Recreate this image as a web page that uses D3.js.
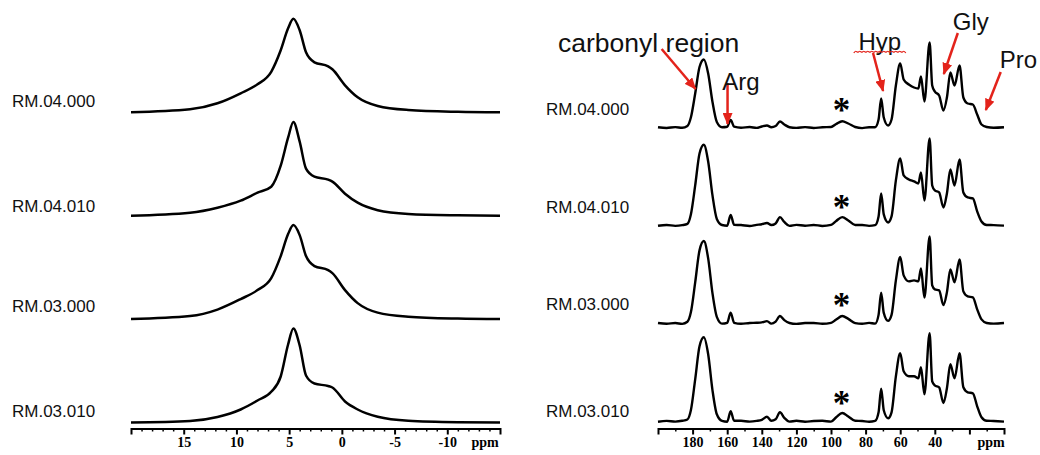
<!DOCTYPE html>
<html>
<head>
<meta charset="utf-8">
<script src="https://cdn.jsdelivr.net/npm/d3@7"></script>
<style>
  body { margin: 0; background: #fff; }
  svg { display: block; }
</style>
</head>
<body>
<div id="chart"></div>
<script>
// --- Samples (top -> bottom) ---
const samples = ["RM.04.000", "RM.04.010", "RM.03.000", "RM.03.010"];

// --- 1H spectra: chemical shift (ppm) and intensity ---
const hShift = [20, 14.4, 11.8, 9.6, 8.0, 6.7, 5.8, 5.1, 4.6, 4.0, 3.4, 2.6, 1.3, 0.9, -0.3, -1.5, -3.4, -6.3, -11, -15];
const h0400 = [0, 3, 9, 19, 28, 40.5, 62, 84, 93.5, 82, 60, 50, 46, 43, 27, 15, 6.3, 2.3, 0.5, 0];
const h0410 = [0, 3, 8, 15, 23, 29, 50, 78, 93.7, 74, 47, 39, 36, 34, 22, 13, 5.5, 1.8, 0.4, 0];
const h0300 = [0, 3, 9.5, 20, 29, 41, 63, 85, 94, 84, 63, 53, 49, 46, 29, 16, 6.5, 2.4, 0.5, 0];
const h0310 = [0, 1.5, 5.5, 13, 22, 30.7, 46, 78, 94, 77, 47, 39, 36.5, 35, 21, 13, 5.7, 1.7, 0.3, 0];

// --- 13C spectra ---
const cShift = [200, 195, 190, 186, 183, 181, 178.5, 176, 173.5, 171, 168.5, 166, 163, 160, 158, 156,
  152, 147, 143, 140, 137, 134.5, 132, 129.5, 127, 124, 120, 115, 110, 105, 100, 97, 93.5, 90, 86, 82, 78,
  74.5, 72.5, 71, 69.5, 67, 65, 62.5, 60, 58, 55, 52, 49.5, 48, 46, 43, 41.5, 40, 37.5, 35, 33, 31, 28.6,
  25.7, 23.5, 21, 18, 15.5, 13, 10, 6, 0];
const c0400 = [0.3, -0.5, 0.4, -0.3, 1.5, 10, 34, 60.5, 68, 54, 25.5, 5.5, 0.3, 0.8, 7.5, 0.8,
  -0.3, 0.5, -0.4, 1, 2, 0.3, 1.5, 6, 3, 0.3, -0.4, 0.4, -0.5, 0.3, 0.5, 3.5, 6.3, 4, 0.5, -0.6, 0.3,
  0.3, 8, 29, 10, 2, 8, 42, 64, 48, 43, 40, 39, 51, 26, 85, 42, 36, 32, 17, 30, 55, 42,
  62, 30, 24, 23, 13, 3, 0.5, -0.3, 0.2];
const c0410 = [-0.3, 0.5, -0.4, 0.3, 1.6, 11, 40, 72, 80.7, 64, 30, 6.5, 0.4, -0.3, 10.5, 0.6,
  0.4, -0.5, 0.6, 1.2, 2.5, 0.4, 2, 8.3, 3.5, -0.4, 0.6, -0.3, 0.5, -0.5, 0.6, 4.5, 8.3, 5, 0.4, 0.5, -0.4,
  0.3, 9, 32, 11, 3, 9, 45, 67, 50, 46, 44, 42, 53, 25, 87, 40, 35, 33, 18, 32, 56, 40,
  66, 33, 28, 27, 14, 4, 0.5, 0.3, -0.2];
const c0300 = [0.4, -0.4, 0.3, -0.5, 1.6, 11, 41, 73, 82.3, 65, 30, 6.5, -0.3, 0.6, 10.7, 0.5,
  -0.4, 0.4, 0.6, 1, 2.2, -0.3, 1.8, 7.3, 3.2, 0.4, -0.5, 0.3, 0.4, -0.4, 0.5, 3.8, 7.3, 4.5, 0.3, -0.4, 0.5,
  -0.3, 8.5, 30.7, 10.5, 2.5, 8.5, 43, 66.3, 48, 42, 43, 42, 55, 25.7, 87, 38, 34, 33, 18.3, 31, 54, 41,
  64, 32, 27, 26, 14, 4, 0.4, -0.3, 0.3];
const c0310 = [-0.4, 0.4, -0.3, 0.5, 1.8, 11, 42, 75, 84, 67, 31, 7, 0.4, -0.4, 10, 0.5,
  0.5, -0.3, 0.4, 1.5, 4.5, 0.5, 2, 9, 3.5, -0.3, 0.5, -0.4, 0.3, 0.5, -0.3, 4, 8.3, 4.8, 0.5, 0.3, -0.4,
  0.4, 9, 32.7, 11, 3, 9, 45, 68, 50, 45, 45, 43, 54, 27, 88, 40, 36, 34, 18.3, 33, 57, 43,
  68, 34, 29, 28, 15, 4, 0.5, 0.3, -0.3];

// --- Axis ticks ---
const hTicks = [15, 10, 5, 0, -5, -10];
const hMinor = d3.range(19, -15, -1).filter(v => v % 5 !== 0);
const cTicks = [180, 160, 140, 120, 100, 80, 60, 40, 20];
const cMinor = [190, 170, 150, 130, 110, 90, 70, 50, 30, 10];

// Zuordnung Probe -> Reihe
const hSeries = [h0400, h0410, h0300, h0310];
const cSeries = [c0400, c0410, c0300, c0310];

const width = 1040, height = 455;
const axisY = 428.5;

const svg = d3.select("#chart").append("svg")
  .attr("width", width)
  .attr("height", height);

svg.append("rect").attr("width", width).attr("height", height).attr("fill", "#fff");

function drawPanel(p) {
  const x = d3.scaleLinear().domain(p.domain).range(p.range);
  const rows = d3.scalePoint().domain(samples).range(p.rows);
  const y = d3.scaleLinear().domain([0, 100]).range([0, 100]);

  const g = svg.append("g").attr("class", p.name);

  // --- Spectra ---
  samples.forEach((s, i) => {
    const pts = p.shift.map((v, j) => [v, p.series[i][j]]);
    const line = d3.line()
      .x(d => x(d[0]))
      .y(d => rows(s) - y(d[1]))
      .curve(d3.curveMonotoneX);

    g.append("path")
      .datum(pts)
      .attr("d", line)
      .attr("fill", "none")
      .attr("stroke", "#000")
      .attr("stroke-width", p.lineWidth)
      .attr("stroke-linejoin", "round");

    g.append("text")
      .attr("x", p.labelX)
      .attr("y", rows(s) + p.labelDy[i])
      .attr("font-family", "Liberation Sans, Arial, sans-serif")
      .attr("font-size", "17px")
      .attr("fill", "#111")
      .text(s);

    if (p.star) {
      g.append("text")
        .attr("x", x(p.star))
        .attr("y", rows(s) - 6)
        .attr("text-anchor", "middle")
        .attr("font-family", "Liberation Serif, serif")
        .attr("font-weight", "bold")
        .attr("font-size", "35px")
        .text("*");
    }
  });

  // --- Axes (major + minor) ---
  const minorG = g.append("g")
    .attr("transform", `translate(0,${axisY})`)
    .call(d3.axisBottom(x).tickValues(p.minor).tickSize(3).tickSizeOuter(0).tickFormat(""));
  minorG.select(".domain").remove();
  minorG.selectAll(".tick line").attr("stroke-width", 1.5);

  const majorG = g.append("g")
    .attr("transform", `translate(0,${axisY})`)
    .call(d3.axisBottom(x).tickValues(p.ticks).tickSize(6).tickSizeOuter(6).tickPadding(3)
      .tickFormat(d => p.blank.includes(d) ? "" : d));
  majorG.select(".domain").attr("stroke-width", 2);
  majorG.selectAll(".tick line").attr("stroke-width", 2);
  majorG.selectAll(".tick text")
    .attr("font-family", "Liberation Serif, Times New Roman, serif")
    .attr("font-weight", "bold")
    .attr("font-size", "14px")
    .attr("fill", "#000");

  g.append("text")
    .attr("x", p.ppmX)
    .attr("y", axisY + 18.5)
    .attr("text-anchor", "middle")
    .attr("font-family", "Liberation Serif, Times New Roman, serif")
    .attr("font-weight", "bold")
    .attr("font-size", "14px")
    .text("ppm");

  return { x, rows, y };
}

drawPanel({
  name: "proton", domain: [20, -15], range: [131, 500], rows: [112.3, 422.5],
  shift: hShift, series: hSeries, lineWidth: 2.5,
  labelX: 12, labelDy: [-5, -4, -7, -5.5],
  ticks: hTicks, minor: hMinor, blank: [], ppmX: 485
});

const c = drawPanel({
  name: "carbon", domain: [200, 0], range: [658, 1004], rows: [127.5, 421.3],
  shift: cShift, series: cSeries, lineWidth: 2.4,
  labelX: 546, labelDy: [-12.5, -12.5, -13.5, -4.5],
  ticks: cTicks, minor: cMinor, blank: [20], ppmX: 991, star: 94
});

// --- Annotations (red arrows on the top 13C trace) ---
const red = "#e3231b";
svg.append("defs").append("marker")
  .attr("id", "head")
  .attr("markerUnits", "userSpaceOnUse")
  .attr("markerWidth", 12).attr("markerHeight", 10)
  .attr("refX", 11).attr("refY", 5)
  .attr("orient", "auto")
  .append("path")
  .attr("d", "M0,0 L12,5 L0,10 Z")
  .attr("fill", red);

const base = c.rows(samples[0]);
const annotations = [
  { text: "carbonyl region", tx: 205.4, th: 75.5, size: 26.5, from: [197.9, 78.5], to: [178.3, 38.5] },
  { text: "Arg", tx: 152, th: 37.5, size: 24, from: [159.8, 44.5], to: [159.8, 3.5] },
  { text: "Hyp", tx: 71.8, th: 77.5, size: 24, from: [75.7, 74.5], to: [69.9, 36.5] },
  { text: "Gly", tx: 19.2, th: 97.5, size: 24, from: [26.7, 94.5], to: [34.8, 53.5] },
  { text: "Pro", tx: -8.4, th: 59.5, size: 24, from: [1.9, 55.5], to: [10.5, 17.5] }
];

const ann = svg.append("g").attr("class", "annotations");

ann.selectAll("line")
  .data(annotations)
  .join("line")
  .attr("x1", d => c.x(d.from[0]))
  .attr("y1", d => base - c.y(d.from[1]))
  .attr("x2", d => c.x(d.to[0]))
  .attr("y2", d => base - c.y(d.to[1]))
  .attr("stroke", red)
  .attr("stroke-width", 2.5)
  .attr("marker-end", "url(#head)");

ann.selectAll("text")
  .data(annotations)
  .join("text")
  .attr("x", d => c.x(d.tx))
  .attr("y", d => base - c.y(d.th))
  .attr("text-anchor", "middle")
  .attr("font-family", "Liberation Sans, Arial, sans-serif")
  .attr("font-size", d => d.size + "px")
  .attr("fill", "#111")
  .text(d => d.text);

// Rote Wellenlinie unter "Hyp" (Rechtschreibprüfung im Original)
const hypX = c.x(71.8);
const wave = d3.range(-26, 27, 2).map((dx, i) => [hypX + dx, base - c.y(75.8) + (i % 2 ? -1.3 : 1.3)]);
ann.append("path")
  .attr("d", d3.line().curve(d3.curveBasis)(wave))
  .attr("fill", "none")
  .attr("stroke", red)
  .attr("stroke-width", 1.2);
</script>
</body>
</html>
